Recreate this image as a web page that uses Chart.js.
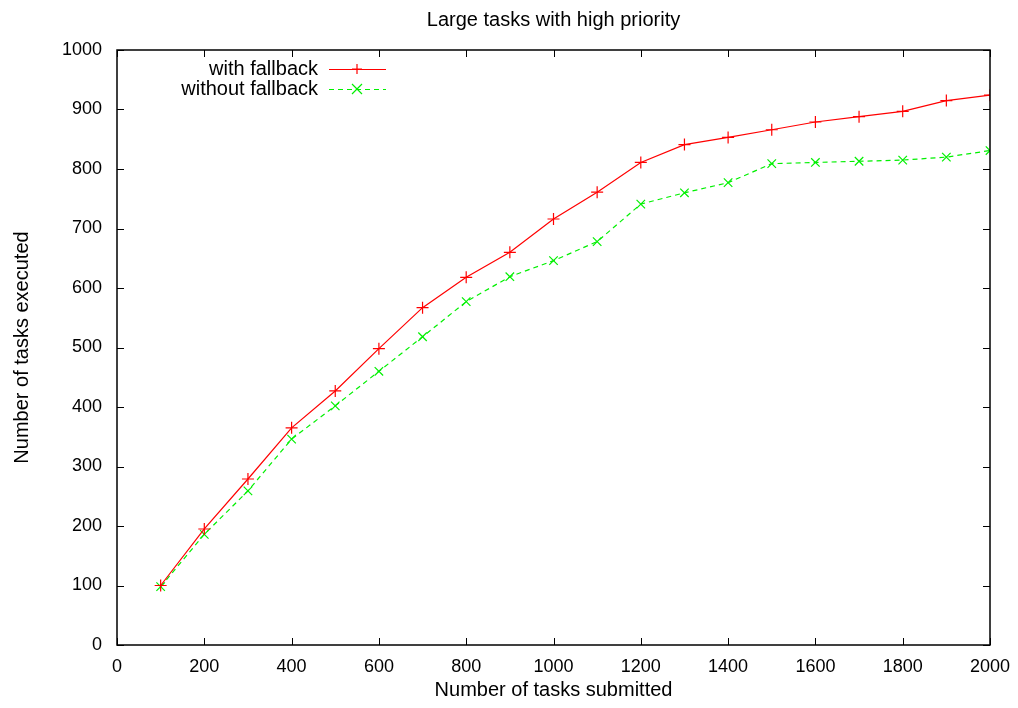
<!DOCTYPE html>
<html>
<head>
<meta charset="utf-8">
<script src="https://cdn.jsdelivr.net/npm/chart.js@4"></script>
<style>
  html, body { margin: 0; padding: 0; background: #fff; }
  #wrap { width: 1018px; height: 708px; }
</style>
</head>
<body>
<div id="wrap"><canvas id="chart" width="1018" height="708"></canvas></div>
<script>
// data
const submitted = [100, 200, 300, 400, 500, 600, 700, 800, 900, 1000,
  1100, 1200, 1300, 1400, 1500, 1600, 1700, 1800, 1900, 2000];
const withFallback = [100, 195, 279, 365, 427, 498, 567, 618, 660, 716,
  761, 811, 841, 853, 866, 879, 888, 897, 915, 924];
const withoutFallback = [98, 186, 259, 346, 402, 460, 518, 577, 619, 646,
  678, 741, 760, 777, 809, 811, 813, 815, 820, 831];
const xTicks = [0, 200, 400, 600, 800, 1000, 1200, 1400, 1600, 1800, 2000];
const yTicks = [0, 100, 200, 300, 400, 500, 600, 700, 800, 900, 1000];
const chartTitle = 'Large tasks with high priority';

const FONT = '"Liberation Sans", Arial, sans-serif';
const ctx = document.getElementById('chart').getContext('2d');

const toPoints = ys => ys.map((y, i) => ({ x: submitted[i], y: y }));

// gnuplot style frame: title over the plot box, box border,
// inward ticks on all four sides, key inside the box
const gnuplotFrame = {
  id: 'gnuplotFrame',
  afterDatasetsDraw(chart) {
    const { ctx, chartArea: a, scales } = chart;
    const tl = 7;
    ctx.save();

    ctx.font = '20px ' + FONT;
    ctx.fillStyle = '#000';
    ctx.textAlign = 'center';
    ctx.textBaseline = 'middle';
    ctx.fillText(chartTitle, (a.left + a.right) / 2, 20);

    ctx.strokeStyle = '#000';
    ctx.lineWidth = 1;
    ctx.beginPath();
    xTicks.forEach(v => {
      const x = Math.round(scales.x.getPixelForValue(v)) + 0.5;
      ctx.moveTo(x, a.bottom); ctx.lineTo(x, a.bottom - tl);
      ctx.moveTo(x, a.top); ctx.lineTo(x, a.top + tl);
    });
    yTicks.forEach(v => {
      const y = Math.round(scales.y.getPixelForValue(v)) + 0.5;
      ctx.moveTo(a.left, y); ctx.lineTo(a.left + tl, y);
      ctx.moveTo(a.right, y); ctx.lineTo(a.right - tl, y);
    });
    ctx.stroke();
    ctx.lineWidth = 1.5;
    ctx.strokeRect(a.left, a.top, a.right - a.left, a.bottom - a.top);

    // key
    ctx.textAlign = 'right';
    chart.data.datasets.forEach((ds, i) => {
      const y = 69 + i * 20;
      ctx.fillStyle = '#000';
      ctx.fillText(ds.label, 318, y);
      ctx.strokeStyle = ds.borderColor;
      ctx.lineWidth = ds.borderWidth;
      ctx.setLineDash(ds.borderDash || []);
      ctx.beginPath();
      ctx.moveTo(329, y + 0.5); ctx.lineTo(386, y + 0.5);
      ctx.stroke();
      ctx.setLineDash([]);
      ctx.beginPath();
      const r = 5;
      if (ds.pointStyle === 'cross') {
        ctx.moveTo(357 - r, y); ctx.lineTo(357 + r, y);
        ctx.moveTo(357, y - r); ctx.lineTo(357, y + r);
      } else {
        ctx.moveTo(357 - r, y - r); ctx.lineTo(357 + r, y + r);
        ctx.moveTo(357 - r, y + r); ctx.lineTo(357 + r, y - r);
      }
      ctx.stroke();
    });
    ctx.restore();
  }
};

new Chart(ctx, {
  type: 'line',
  data: {
    datasets: [{
      label: 'with fallback',
      data: toPoints(withFallback),
      borderColor: '#ff0000',
      backgroundColor: '#ff0000',
      borderWidth: 1.2,
      pointStyle: 'cross',
      pointRadius: 6,
      pointBorderWidth: 1.2,
      tension: 0
    }, {
      label: 'without fallback',
      data: toPoints(withoutFallback),
      borderColor: '#00f000',
      backgroundColor: '#00f000',
      borderWidth: 1.2,
      borderDash: [5, 4],
      pointStyle: 'crossRot',
      pointRadius: 6,
      pointBorderWidth: 1.2,
      tension: 0
    }]
  },
  options: {
    responsive: false,
    animation: false,
    events: [],
    layout: { padding: { left: 0, right: 28, top: 50, bottom: 0 } },
    plugins: {
      legend: { display: false },
      tooltip: { enabled: false },
      title: { display: false }
    },
    scales: {
      x: {
        type: 'linear',
        min: 0,
        max: 2000,
        afterBuildTicks: s => { s.ticks = xTicks.map(v => ({ value: v })); },
        afterFit: s => { s.height = 63; s.paddingLeft = 0; s.paddingRight = 0; },
        grid: { display: false, drawTicks: false },
        border: { display: false },
        ticks: { color: '#000', padding: 11, maxRotation: 0, autoSkip: false,
                 font: { family: FONT, size: 18 },
                 callback: v => String(v) },
        title: {
          display: true,
          text: 'Number of tasks submitted',
          color: '#000',
          font: { family: FONT, size: 20 },
          padding: { top: 0, bottom: 6 }
        }
      },
      y: {
        min: 0,
        max: 1000,
        afterBuildTicks: s => { s.ticks = yTicks.map(v => ({ value: v })); },
        afterFit: s => { s.width = 117; s.paddingTop = 0; s.paddingBottom = 0; },
        grid: { display: false, drawTicks: false },
        border: { display: false },
        ticks: { color: '#000', padding: 15, autoSkip: false,
                 font: { family: FONT, size: 18 },
                 callback: v => String(v) },
        title: {
          display: true,
          text: 'Number of tasks executed',
          color: '#000',
          font: { family: FONT, size: 20 },
          padding: { top: 10, bottom: 0 }
        }
      }
    }
  },
  plugins: [gnuplotFrame]
});
</script>
</body>
</html>
